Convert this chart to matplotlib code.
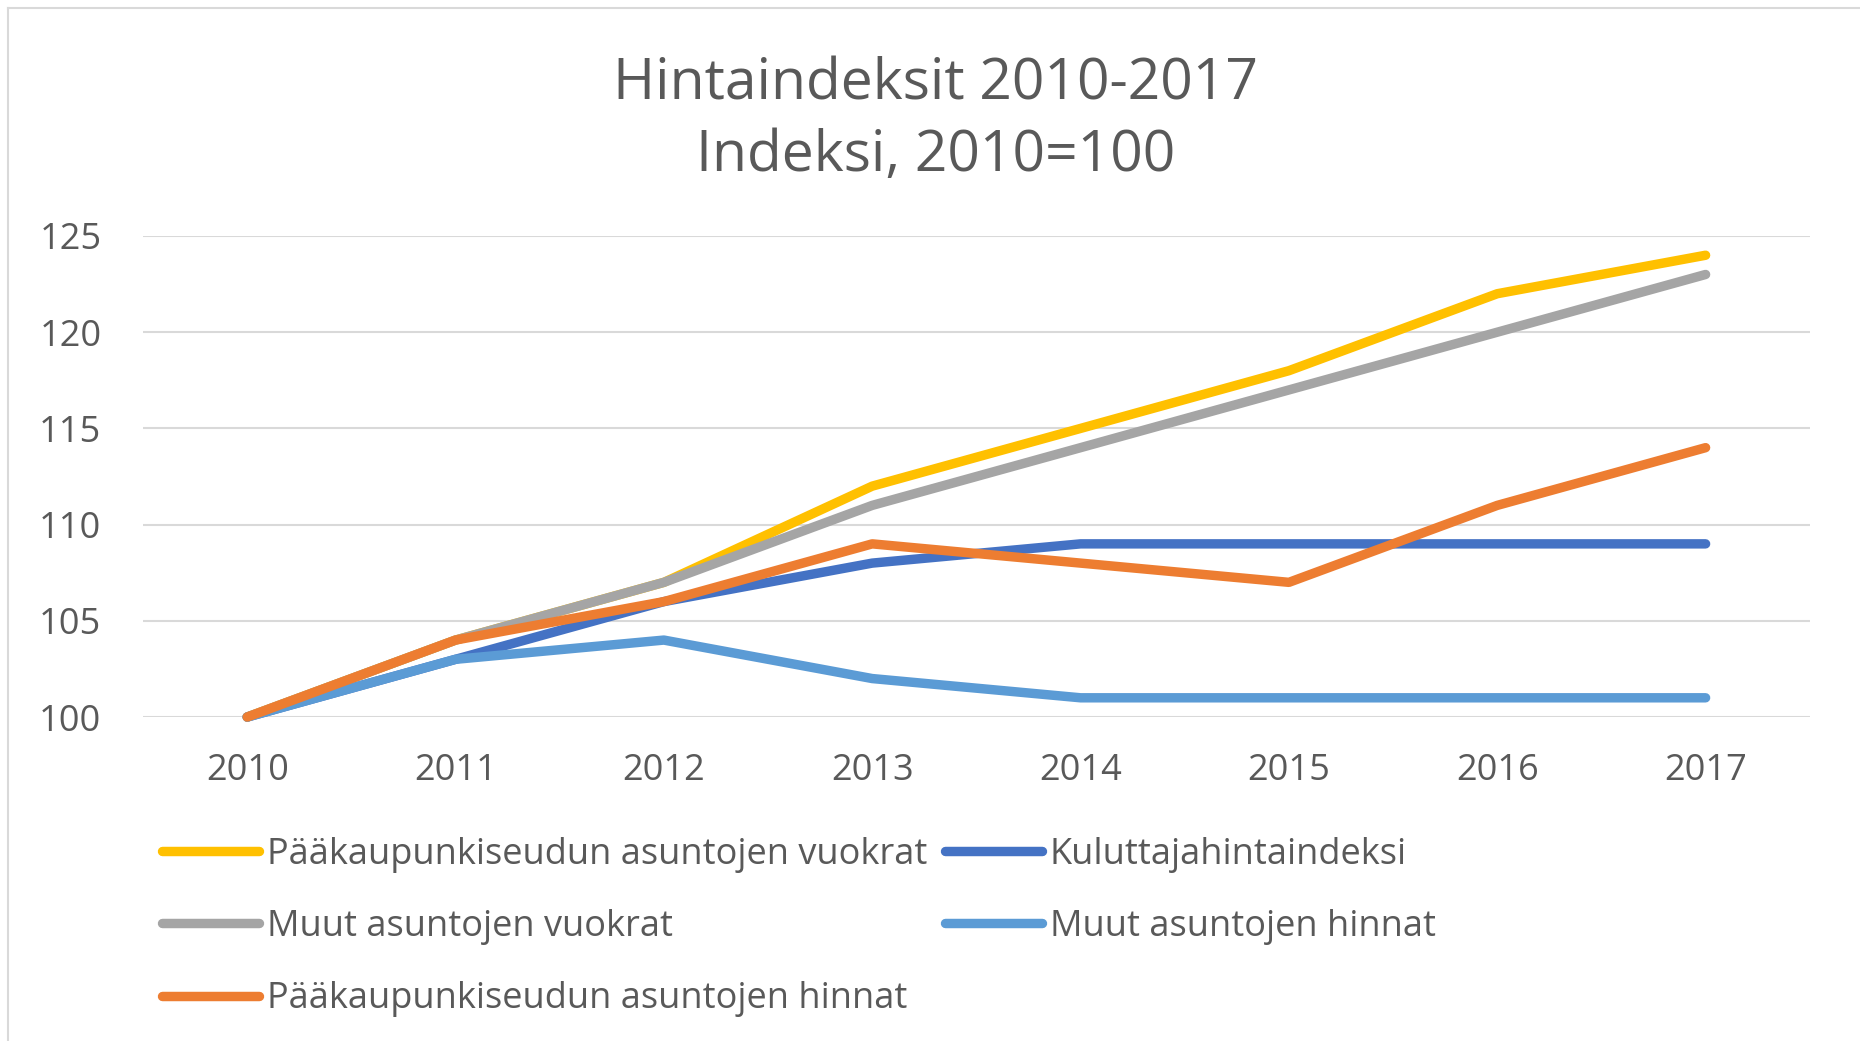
import matplotlib.pyplot as plt
from matplotlib.lines import Line2D

plt.rcParams['font.family'] = ['Open Sans', 'DejaVu Sans']

years = ['2010', '2011', '2012', '2013', '2014', '2015', '2016', '2017']

pk_vuokrat = [100, 104, 107, 112, 115, 118, 122, 124]
kuluttaja = [100, 103, 106, 108, 109, 109, 109, 109]
muut_vuokrat = [100, 104, 107, 111, 114, 117, 120, 123]
muut_hinnat = [100, 103, 104, 102, 101, 101, 101, 101]
pk_hinnat = [100, 104, 106, 109, 108, 107, 111, 114]

names = ['Pääkaupunkiseudun asuntojen vuokrat', 'Kuluttajahintaindeksi',
         'Muut asuntojen vuokrat', 'Muut asuntojen hinnat',
         'Pääkaupunkiseudun asuntojen hinnat']
series = [pk_vuokrat, kuluttaja, muut_vuokrat, muut_hinnat, pk_hinnat]
colors = ['#FFC000', '#4472C4', '#A5A5A5', '#5B9BD5', '#ED7D31']

text_col = '#595959'
grid_col = '#D9D9D9'

fig = plt.figure(figsize=(18.6, 10.41), dpi=100)
ax = fig.add_axes([0.0769, 0.3112, 0.8961, 0.4621])

x = list(range(len(years)))
for name, vals, c in zip(names, series, colors):
    ax.plot(x, vals, color=c, lw=6.8, solid_capstyle='round',
            solid_joinstyle='round', clip_on=False, label=name)

ax.set_xlim(-0.5, len(years) - 0.5)
ax.set_ylim(100, 125)
ax.set_yticks([100, 105, 110, 115, 120, 125])
ax.set_xticks(x)
ax.set_xticklabels(years)
ax.grid(axis='y', color=grid_col, lw=1.5)
ax.set_axisbelow(True)
for s in ax.spines.values():
    s.set_visible(False)
ax.tick_params(axis='both', length=0, labelsize=26, colors=text_col)
ax.tick_params(axis='y', pad=30)
ax.tick_params(axis='x', pad=26)

fig.text(0.503, 0.918, 'Hintaindeksit 2010-2017', ha='center', va='center',
         fontsize=41, color=text_col)
fig.text(0.503, 0.850, 'Indeksi, 2010=100', ha='center', va='center',
         fontsize=41, color=text_col)

# legend order: column-wise fill to match row layout
order = [0, 2, 4, 1, 3]
handles = [Line2D([], [], color=colors[i], lw=6.8, solid_capstyle='round') for i in order]
labels = [names[i] for i in order]
fig.legend(handles, labels, ncol=2, loc='upper left',
           bbox_to_anchor=(0.087, 0.196), frameon=False, fontsize=26,
           labelcolor=text_col, handlelength=2.7, handletextpad=0.2,
           columnspacing=0.5, labelspacing=1.0, borderaxespad=0, borderpad=0)

# chart frame (top and left edges visible)
fig.add_artist(Line2D([0.0043, 1.0], [0.9923, 0.9923], color=grid_col, lw=1.5,
                      transform=fig.transFigure))
fig.add_artist(Line2D([0.0043, 0.0043], [0.0, 0.9923], color=grid_col, lw=1.5,
                      transform=fig.transFigure))

fig.savefig('out.png', dpi=100)
